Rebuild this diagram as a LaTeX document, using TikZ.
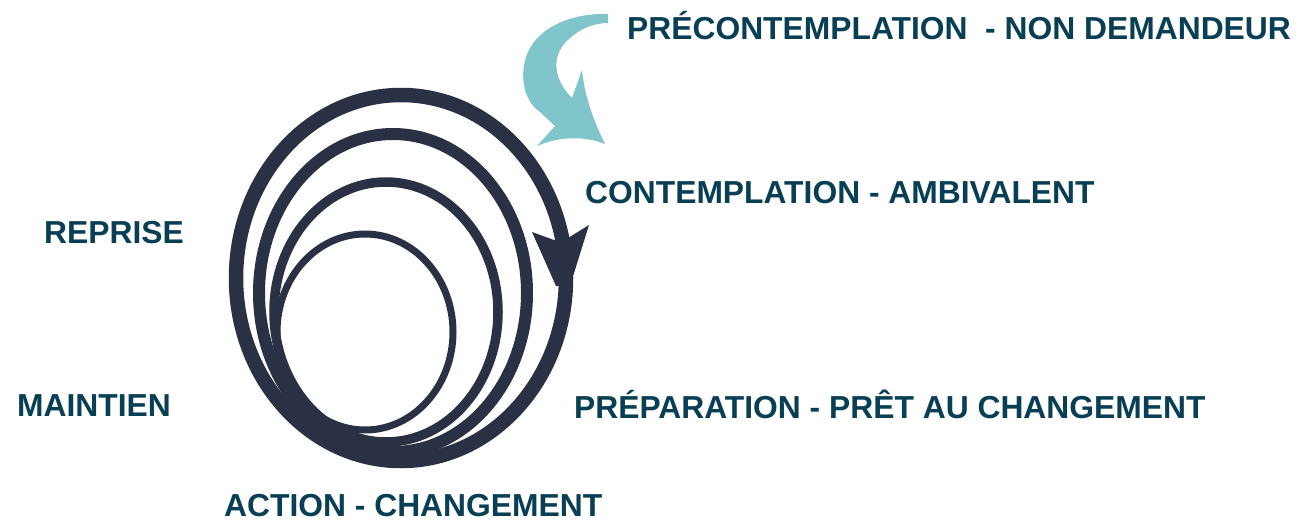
\documentclass[tikz,border=0pt]{standalone}
\usepackage{fontspec}
\setmainfont{Liberation Sans}
\definecolor{spiral}{RGB}{43,49,68}
\definecolor{tealarrow}{RGB}{127,197,202}
\definecolor{labeltext}{RGB}{8,63,85}
\begin{document}
\begin{tikzpicture}[x=1pt,y=-1pt,
  lbl/.style={anchor=base west,inner sep=0pt,text depth=0pt,text=labeltext,font=\fontsize{31.8}{36}\selectfont\bfseries},
  loop/.style={draw=spiral}]
\useasboundingbox (0,0) rectangle (1299,522);
% spiral loops
\draw[loop,line width=7pt]  (365,332) ellipse [x radius=88pt, y radius=98pt];
\draw[loop,line width=9.5pt] (386,312) ellipse [x radius=112pt, y radius=130pt];
\draw[loop,line width=12pt] (393,293) ellipse [x radius=134pt, y radius=159pt];
\draw[loop,line width=14.5pt] (401,278) ellipse [x radius=165pt, y radius=183pt];
% arrowhead on the outer loop
\fill[spiral] (532,232) -- (554,240) -- (568,238) -- (589,225) -- (570,286) -- (556,286) -- cycle;
% teal curved arrow
\fill[tealarrow] (608,14) .. controls (580,13) and (545,22) .. (530,48)
  .. controls (518,70) and (522,100) .. (540,112)
  .. controls (546,118) and (551,122) .. (555,126)
  -- (537,146)
  .. controls (560,136) and (585,136) .. (605,144)
  .. controls (592,118) and (584,92) .. (582,70)
  -- (572,98)
  .. controls (556,82) and (550,60) .. (565,43)
  .. controls (577,30) and (592,23) .. (608,23) -- cycle;
% labels
\node[lbl] (pre) at (627,39) {PRÉCONTEMPLATION\ \ - NON DEMANDEUR};
\node[lbl] (con) at (585,203) {CONTEMPLATION - AMBIVALENT};
\node[lbl] (rep) at (44,243) {REPRISE};
\node[lbl] (mai) at (17,416) {MAINTIEN};
\node[lbl] (prep) at (574,418) {PRÉPARATION - PRÊT AU CHANGEMENT};
\node[lbl] (act) at (224,516) {ACTION - CHANGEMENT};
\end{tikzpicture}
\end{document}
